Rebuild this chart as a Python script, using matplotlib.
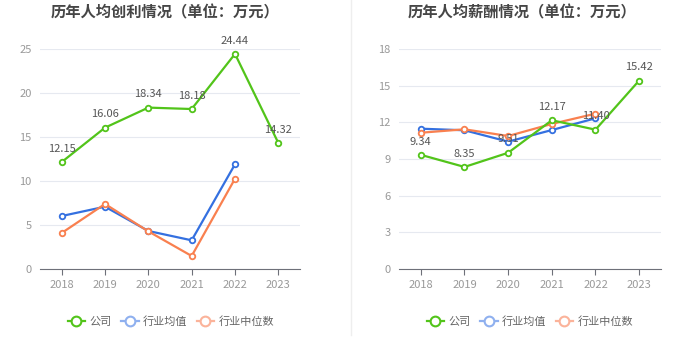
import matplotlib
matplotlib.use("Agg")
import matplotlib.pyplot as plt
from matplotlib.lines import Line2D

plt.rcParams["font.family"] = ["Noto Sans CJK SC", "DejaVu Sans"]

YEARS = ["2018", "2019", "2020", "2021", "2022", "2023"]

# 人均创利 (万元)
PROFIT_COMPANY = [12.15, 16.06, 18.34, 18.18, 24.44, 14.32]
PROFIT_MEAN = [6.02, 7.08, 4.32, 3.26, 11.9]
PROFIT_MEDIAN = [4.09, 7.39, 4.28, 1.48, 10.26]

# 人均薪酬 (万元)
SALARY_COMPANY = [9.34, 8.35, 9.51, 12.17, 11.40, 15.42]
SALARY_MEAN = [11.48, 11.35, 10.42, 11.37, 12.33]
SALARY_MEDIAN = [11.15, 11.43, 10.88, 11.87, 12.71]

GREEN = "#52c41a"
BLUE = "#3470e0"
ORANGE = "#f9804f"
W, H = 700, 360


def draw_panel(ax, company, mean, median, ymax, step, title, cx, lx):
    x = list(range(len(YEARS)))
    kw = dict(marker="o", markersize=4, markerfacecolor="white",
              markeredgewidth=1.3, linewidth=1.6, clip_on=False)
    ax.plot(x[:len(mean)], mean, color=BLUE, zorder=3, **kw)
    ax.plot(x[:len(median)], median, color=ORANGE, zorder=3, **kw)
    ax.plot(x, company, color=GREEN, zorder=4, **kw)
    for xi, v in zip(x, company):
        ax.annotate(f"{v:.2f}", (xi, v), xytext=(0, 6), textcoords="offset points",
                    ha="center", va="bottom", fontsize=8, color="#555555", zorder=5)
    ax.set_xlim(-0.5, len(YEARS) - 0.5)
    ax.set_ylim(0, ymax)
    ax.set_yticks(range(0, ymax + 1, step))
    ax.set_xticks(x)
    ax.set_xticklabels(YEARS)
    ax.grid(axis="y", color="#e6e9f0", linewidth=0.8)
    ax.set_axisbelow(True)
    for s in ("top", "right", "left"):
        ax.spines[s].set_visible(False)
    ax.spines["bottom"].set_color("#6e7079")
    ax.tick_params(axis="y", length=0, pad=6, labelsize=8, labelcolor="#999999")
    ax.tick_params(axis="x", length=4, color="#6e7079", pad=4, labelsize=8,
                   labelcolor="#999999")
    fig.text(cx / W, 1 - 12 / H, title, ha="center", va="center",
             fontsize=11, fontweight="bold", color="#464646")
    handles = [
        Line2D([], [], color=GREEN, marker="o", markersize=7, markerfacecolor="white",
               markeredgewidth=1.5, linewidth=1.6),
        Line2D([], [], color="#8fb0ef", marker="o", markersize=7, markerfacecolor="white",
               markeredgewidth=1.5, linewidth=1.6),
        Line2D([], [], color="#fbb39a", marker="o", markersize=7, markerfacecolor="white",
               markeredgewidth=1.5, linewidth=1.6),
    ]
    fig.legend(handles, ["公司", "行业均值", "行业中位数"], loc="center",
               bbox_to_anchor=(lx / W, 1 - 322 / H), ncol=3, frameon=False,
               fontsize=8, labelcolor="#666666", handlelength=1.6,
               handletextpad=0.4, columnspacing=0.8)


fig = plt.figure(figsize=(7, 3.6), dpi=100)
ax1 = fig.add_axes([40 / W, 1 - 269 / H, 260 / W, 220 / H])
ax2 = fig.add_axes([399 / W, 1 - 269 / H, 262 / W, 220 / H])

draw_panel(ax1, PROFIT_COMPANY, PROFIT_MEAN, PROFIT_MEDIAN, 25, 5,
           "历年人均创利情况（单位：万元）", 165, 171)
draw_panel(ax2, SALARY_COMPANY, SALARY_MEAN, SALARY_MEDIAN, 18, 3,
           "历年人均薪酬情况（单位：万元）", 522, 530)

fig.add_artist(Line2D([351 / W, 351 / W], [1 - 335 / H, 1], color="#eeeeee",
                      linewidth=1, transform=fig.transFigure))

fig.savefig("out.png", dpi=100)
